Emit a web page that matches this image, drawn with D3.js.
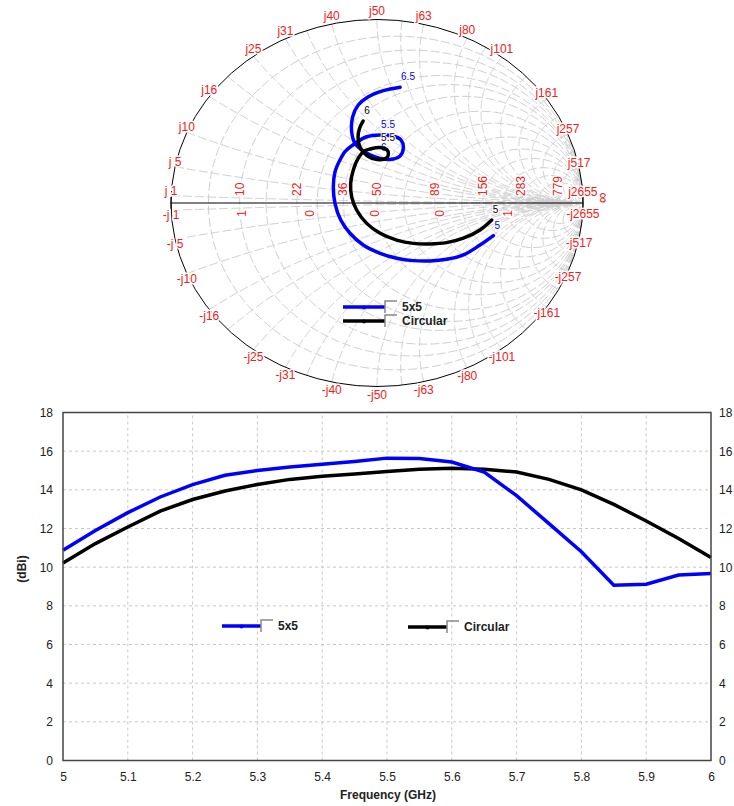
<!DOCTYPE html>
<html><head><meta charset="utf-8">
<script src="https://cdn.jsdelivr.net/npm/d3@7/dist/d3.min.js"></script>
<style>body{margin:0;background:#fff}svg{display:block}</style>
</head><body>
<svg id="c" width="734" height="806"></svg>
<script>
// ---------- gain vs frequency data ----------
const freqs = [5.00,5.05,5.10,5.15,5.20,5.25,5.30,5.35,5.40,5.45,5.50,5.55,5.60,5.65,5.70,5.75,5.80,5.85,5.90,5.95,6.00];
const gain5x5 = [10.88,11.90,12.82,13.63,14.27,14.75,15.00,15.18,15.32,15.47,15.64,15.62,15.44,14.92,13.70,12.25,10.80,9.07,9.12,9.59,9.67];
const gainCircular = [10.22,11.22,12.08,12.90,13.50,13.94,14.28,14.54,14.70,14.82,14.95,15.06,15.12,15.06,14.92,14.54,14.00,13.25,12.39,11.48,10.50];
const xTicks = [5,5.1,5.2,5.3,5.4,5.5,5.6,5.7,5.8,5.9,6];
const yTicks = [0,2,4,6,8,10,12,14,16,18];
const seriesNames = ["5x5","Circular"];
const seriesColors = ["#0000ff","#000000"];
const xTitle = "Frequency (GHz)";
const yTitle = "(dBi)";

// ---------- Smith chart data (reflection coefficient, re / im), 5 -> 6.5 GHz ----------
const smith5x5 = [[0.565,-0.178],[0.500,-0.229],[0.419,-0.283],[0.338,-0.307],[0.257,-0.316],[0.175,-0.314],[0.096,-0.301],[0.015,-0.274],[-0.067,-0.229],[-0.131,-0.165],[-0.176,-0.093],[-0.204,-0.002],[-0.212,0.089],[-0.204,0.169],[-0.180,0.234],[-0.155,0.280],[-0.117,0.316],[-0.050,0.361],[0.015,0.371],[0.078,0.365],[0.117,0.343],[0.128,0.300],[0.112,0.256],[0.063,0.237],[0.015,0.243],[-0.034,0.262],[-0.074,0.289],[-0.107,0.325],[-0.123,0.389],[-0.118,0.470],[-0.091,0.534],[-0.042,0.579],[0.031,0.612],[0.112,0.631]];
const smithCircular = [[0.557,-0.093],[0.500,-0.147],[0.419,-0.192],[0.338,-0.216],[0.257,-0.223],[0.176,-0.220],[0.096,-0.202],[0.015,-0.165],[-0.050,-0.111],[-0.099,-0.038],[-0.123,0.034],[-0.128,0.107],[-0.115,0.180],[-0.091,0.244],[-0.063,0.283],[-0.034,0.294],[0.015,0.302],[0.053,0.283],[0.049,0.248],[0.000,0.237],[-0.049,0.259],[-0.083,0.305],[-0.092,0.360],[-0.085,0.406],[-0.067,0.447]];
const smith5x5Marks = [[0,"5"],[18,"5.5"],[24,"6"],[33,"6.5"]];
const smithCircularMarks = [[0,"5"],[16,"5.5"],[24,"6"]];
const Z0 = 50;
const reactanceOhms = [1,5,10,16,25,31,40,50,63,80,101,161,257,517,2655];
const resistanceOhms = [10,22,36,50,89,156,283,779];
const lowerAxisLabels = ["1","0","0","0","1"];
const lowerAxisGamma = [-0.655,-0.325,-0.01,0.306,0.636];

const svg = d3.select("#c");
const FONT = "'Liberation Sans', Arial, sans-serif";
const RED = "#f02020";

// ================= SMITH CHART =================
const sx = d3.scaleLinear().domain([-1,1]).range([171,583]);
const sy = d3.scaleLinear().domain([-1,1]).range([386.5,19.5]);
function gamma(r,x){const d=(r+1)*(r+1)+x*x;return [(r*r+x*x-1)/d,(2*x)/d];}
const gline = d3.line().x(d=>sx(d[0])).y(d=>sy(d[1]));
const smith = svg.append("g");
const grid = smith.append("g").attr("fill","none").attr("stroke","#cfcfcf").attr("stroke-width",1).attr("stroke-dasharray","9,3");
const N = 240;
// resistance circles
const rVals = resistanceOhms.map(v=>v/Z0).concat([0.1,0.3,0.55,1.3,2.4,4.2,8,30]);
rVals.forEach(r=>{
  const pts=[];
  for(let i=1;i<N;i++){const u=-Math.PI/2+Math.PI*i/N;pts.push(gamma(r,Math.tan(u)));}
  grid.append("path").attr("d",gline(pts));
});
// reactance arcs
const xVals = reactanceOhms.map(v=>v/Z0).concat([0.4,0.7,1.13,1.8,2.5,4,7,15,25]);
xVals.forEach(xv=>{
  [1,-1].forEach(s=>{
    const pts=[];
    for(let i=0;i<N;i++){const u=(Math.PI/2)*i/N;pts.push(gamma(Math.tan(u),s*xv));}
    pts.push([1,0]);
    grid.append("path").attr("d",gline(pts));
  });
});
// outer boundary
smith.append("ellipse").attr("cx",sx(0)).attr("cy",sy(0)).attr("rx",sx(1)-sx(0)).attr("ry",sy(0)-sy(1))
  .attr("fill","none").attr("stroke","#000").attr("stroke-width",1);
// real axis
smith.append("line").attr("x1",sx(-1)).attr("x2",sx(1)).attr("y1",sy(0)).attr("y2",sy(0)).attr("stroke","#000").attr("stroke-width",1.2);
[-1,1].forEach(g=>smith.append("line").attr("x1",sx(g)).attr("x2",sx(g)).attr("y1",sy(0)-6).attr("y2",sy(0)+6).attr("stroke","#000"));

const halo = sel=>sel.attr("stroke","#fff").attr("stroke-width",3).attr("paint-order","stroke");
// reactance labels
const lab = smith.append("g").attr("font-family",FONT).attr("font-size",12).attr("fill",RED);
reactanceOhms.forEach(v=>{
  [1,-1].forEach(s=>{
    const g=gamma(0,s*v/Z0);
    const ang=Math.abs(g[1]);
    lab.append("text").attr("x",sx(g[0])).attr("y",sy(g[1])-s*(4+4.5*ang))
      .attr("text-anchor","middle").attr("dominant-baseline","central")
      .text((s<0?"-j":"j")+(v<10?" ":"")+v).call(halo);
  });
});
// resistance labels (rotated)
resistanceOhms.forEach(v=>{
  const g=(v-Z0)/(v+Z0);
  lab.append("text").attr("transform",`translate(${sx(g)+4},${sy(0)-7}) rotate(-90)`)
    .attr("text-anchor","start").text(v).call(halo);
});
lab.append("text").attr("transform",`translate(${sx(1)+24},${sy(0)-5}) rotate(-90)`)
  .attr("text-anchor","middle").attr("font-size",15).text("\u221E").call(halo);
lowerAxisLabels.forEach((t,i)=>{
  lab.append("text").attr("transform",`translate(${sx(lowerAxisGamma[i])+4},${sy(0)+7}) rotate(-90)`)
    .attr("text-anchor","end").text(t).call(halo);
});

// curves
const curve = d3.line().x(d=>sx(d[0])).y(d=>sy(d[1])).curve(d3.curveCatmullRom);
function drawSmith(data,marks,color){
  smith.append("path").attr("d",curve(data)).attr("fill","none").attr("stroke",color).attr("stroke-width",3.5).attr("stroke-linecap","round");
  marks.forEach(([i,t])=>{
    smith.append("text").attr("x",sx(data[i][0])+1).attr("y",sy(data[i][1])-7)
      .attr("font-family",FONT).attr("font-size",10).attr("fill",color).text(t).call(halo).attr("stroke-width",2);
  });
}
drawSmith(smith5x5,smith5x5Marks,seriesColors[0]);
drawSmith(smithCircular,smithCircularMarks,seriesColors[1]);

// legend helper
function legendItem(g,x0,x1,y,color,name){
  g.append("line").attr("x1",x0).attr("x2",x1).attr("y1",y).attr("y2",y).attr("stroke",color).attr("stroke-width",3.5);
  g.append("circle").attr("cx",(x0+x1)/2).attr("cy",y+0.5).attr("r",2).attr("fill",color);
  g.append("path").attr("d",`M${x1},${y+6}V${y-6}H${x1+12}`).attr("fill","none").attr("stroke","#888").attr("stroke-width",1.5);
  g.append("text").attr("x",x1+17).attr("y",y).attr("dominant-baseline","central")
    .attr("font-family",FONT).attr("font-size",12).attr("font-weight","bold").attr("fill","#222").text(name);
}
const sl = smith.append("g");
legendItem(sl,343,385,307,seriesColors[0],seriesNames[0]);
legendItem(sl,343,385,321,seriesColors[1],seriesNames[1]);

// ================= GAIN CHART =================
const x = d3.scaleLinear().domain([5,6]).range([63,711]);
const y = d3.scaleLinear().domain([0,18]).range([760.5,412.5]);
const gc = svg.append("g");
const gg = gc.append("g").attr("stroke","#c8c8c8").attr("stroke-dasharray","3,3").attr("stroke-width",1);
xTicks.slice(1,-1).forEach(t=>gg.append("line").attr("x1",x(t)).attr("x2",x(t)).attr("y1",y(0)).attr("y2",y(18)));
yTicks.slice(1,-1).forEach(t=>gg.append("line").attr("y1",y(t)).attr("y2",y(t)).attr("x1",x(5)).attr("x2",x(6)));

const lineGen = d3.line().x((d,i)=>x(freqs[i])).y(d=>y(d));
gc.append("path").attr("d",lineGen(gainCircular)).attr("fill","none").attr("stroke",seriesColors[1]).attr("stroke-width",3.5);
gc.append("path").attr("d",lineGen(gain5x5)).attr("fill","none").attr("stroke",seriesColors[0]).attr("stroke-width",3.5);

gc.append("rect").attr("x",x(5)).attr("y",y(18)).attr("width",x(6)-x(5)).attr("height",y(0)-y(18))
  .attr("fill","none").attr("stroke","#444").attr("stroke-width",1.5);

const axL = d3.axisLeft(y).tickValues(yTicks).tickSize(0).tickPadding(10).tickFormat(d3.format("d"));
const axR = d3.axisRight(y).tickValues(yTicks).tickSize(0).tickPadding(8).tickFormat(d3.format("d"));
const axB = d3.axisBottom(x).tickValues(xTicks).tickSize(0).tickPadding(12).tickFormat(d=>d===5||d===6?d3.format("d")(d):d3.format(".1f")(d));
[[axL,`translate(${x(5)},0)`],[axR,`translate(${x(6)},0)`],[axB,`translate(0,${y(0)})`]].forEach(([a,t])=>{
  const g=gc.append("g").attr("transform",t).call(a);
  g.select(".domain").remove();
  g.selectAll("text").attr("font-family",FONT).attr("font-size",12).attr("fill","#222");
});
gc.append("text").attr("x",388).attr("y",799).attr("text-anchor","middle").attr("font-family",FONT)
  .attr("font-size",12).attr("font-weight","bold").attr("fill","#222").text(xTitle);
gc.append("text").attr("transform","translate(26,569) rotate(-90)").attr("text-anchor","middle").attr("font-family",FONT)
  .attr("font-size",12).attr("font-weight","bold").attr("fill","#222").text(yTitle);

const gl = gc.append("g");
legendItem(gl,222,261,626,seriesColors[0],seriesNames[0]);
legendItem(gl,408,447,627,seriesColors[1],seriesNames[1]);
</script>
</body></html>
